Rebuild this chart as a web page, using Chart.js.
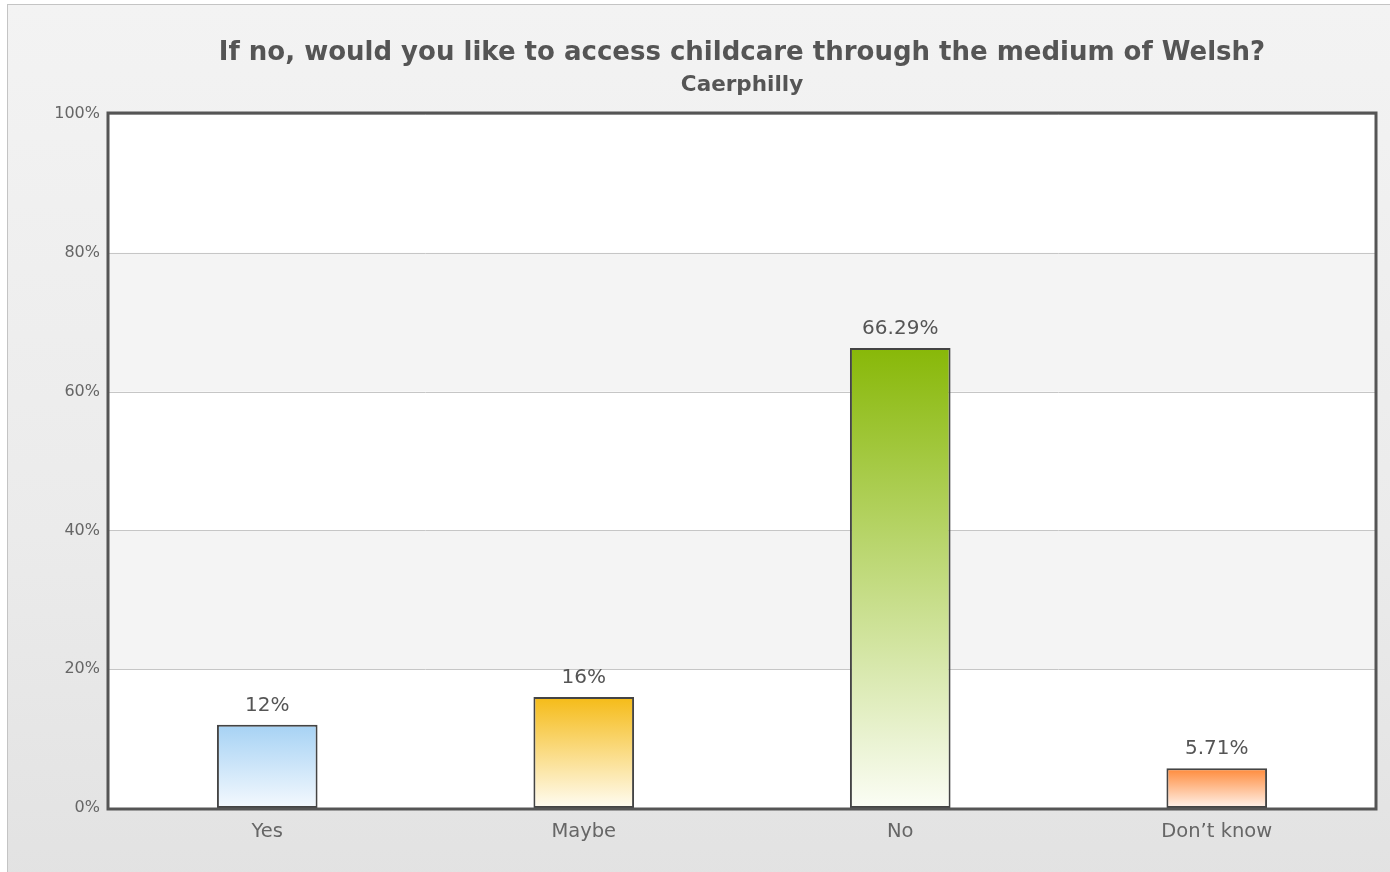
<!DOCTYPE html>
<html>
<head>
<meta charset="utf-8">
<title>Welsh medium childcare - Caerphilly</title>
<script src="https://cdn.jsdelivr.net/npm/chart.js@4.4.1/dist/chart.umd.min.js"></script>
<style>
  html, body { margin: 0; padding: 0; background: #fff; overflow: hidden; }
  #panel {
    position: absolute; left: 7px; top: 4px; width: 1400px; height: 880px;
    border: 1px solid #c4c4c4;
    background: linear-gradient(to bottom, #f3f3f3 0%, #ebebeb 60%, #e2e2e2 100%);
  }
  #wrap { position: absolute; left: 0; top: 0; width: 1390px; height: 872px; }
</style>
</head>
<body>
<div id="panel"></div>
<div id="wrap"><canvas id="chart" width="1390" height="872"></canvas></div>
<script>
// chart data
const categories = ['Yes', 'Maybe', 'No', 'Don\u2019t know'];
const percentages = [12, 16, 66.29, 5.71];
const yTicks = [0, 20, 40, 60, 80, 100];

// gradient colours per bar: [top, bottom]
const barColors = [
  ['#a6d2f4', '#f4f9fe'],
  ['#f5bb17', '#fffcf2'],
  ['#88b808', '#fbfdf5'],
  ['#ff8a3a', '#fff3ec']
];

const FONT = '"DejaVu Sans", Verdana, sans-serif';

// alternating bands behind the bars + thick frame round the plot area
const plotFrame = {
  id: 'plotFrame',
  beforeDatasetsDraw(chart) {
    const { ctx, chartArea: a, scales: { y } } = chart;
    ctx.save();
    ctx.fillStyle = '#ffffff';
    ctx.fillRect(a.left, a.top, a.right - a.left, a.bottom - a.top);
    ctx.fillStyle = '#f4f4f4';
    for (let i = 0; i < yTicks.length - 1; i++) {
      if (i % 2 === 1) {
        const top = y.getPixelForValue(yTicks[i + 1]);
        const bot = y.getPixelForValue(yTicks[i]);
        ctx.fillRect(a.left, top, a.right - a.left, bot - top);
      }
    }
    // grid lines
    ctx.strokeStyle = '#c6c6c6';
    ctx.lineWidth = 1;
    yTicks.forEach(t => {
      const py = Math.round(y.getPixelForValue(t)) + 0.5;
      ctx.beginPath();
      ctx.moveTo(a.left, py);
      ctx.lineTo(a.right, py);
      ctx.stroke();
    });
    ctx.restore();
  },
  afterDatasetsDraw(chart) {
    const { ctx, chartArea: a } = chart;
    ctx.save();
    // value labels above bars
    const meta = chart.getDatasetMeta(0);
    ctx.font = '20px ' + FONT;
    ctx.fillStyle = '#555555';
    ctx.textAlign = 'center';
    ctx.textBaseline = 'alphabetic';
    meta.data.forEach((bar, i) => {
      ctx.fillText(percentages[i] + '%', bar.x, bar.y - 14);
    });
    // frame
    ctx.strokeStyle = '#555555';
    ctx.lineWidth = 3;
    ctx.strokeRect(a.left - 1, a.top - 1, a.right - a.left + 2, a.bottom - a.top + 2);
    ctx.restore();
  }
};

function barGradient(context) {
  const chart = context.chart;
  const y = chart.scales.y;
  const i = context.dataIndex;
  if (!chart.chartArea || !y || i === undefined) return barColors[0][0];
  const top = y.getPixelForValue(percentages[i]);
  const bottom = y.getPixelForValue(0);
  const g = chart.ctx.createLinearGradient(0, top, 0, bottom);
  g.addColorStop(0, barColors[i][0]);
  g.addColorStop(1, barColors[i][1]);
  return g;
}

new Chart(document.getElementById('chart'), {
  type: 'bar',
  data: {
    labels: categories,
    datasets: [{
      data: percentages,
      backgroundColor: barGradient,
      borderColor: '#444444',
      borderWidth: 2,
      borderSkipped: false,
      barPercentage: 0.318,
      categoryPercentage: 1
    }]
  },
  plugins: [plotFrame],
  options: {
    responsive: false,
    animation: false,
    devicePixelRatio: 1,
    layout: { padding: { left: 0, right: 15, top: 0, bottom: 0 } },
    plugins: {
      legend: { display: false },
      tooltip: { enabled: false },
      title: {
        display: true,
        fullSize: false,
        text: 'If no, would you like to access childcare through the medium of Welsh?',
        color: '#555555',
        font: { family: FONT, size: 26, weight: 'bold' },
        padding: { top: 38, bottom: 3 }
      },
      subtitle: {
        display: true,
        fullSize: false,
        text: 'Caerphilly',
        color: '#555555',
        font: { family: FONT, size: 21.5, weight: 'bold' },
        padding: { top: 0, bottom: 16 }
      }
    },
    scales: {
      x: {
        afterFit(scale) { scale.height = 64; },
        grid: { display: false, drawTicks: false },
        border: { display: false },
        ticks: { color: '#666666', padding: 12, font: { family: FONT, size: 19.5 } }
      },
      y: {
        min: 0,
        max: 100,
        afterFit(scale) { scale.width = 109; },
        afterBuildTicks(scale) { scale.ticks = yTicks.map(v => ({ value: v })); },
        grid: { display: false, drawTicks: false },
        border: { display: false },
        ticks: {
          color: '#666666',
          padding: 9,
          font: { family: FONT, size: 16 },
          callback: v => v + '%'
        }
      }
    }
  }
});
</script>
</body>
</html>
